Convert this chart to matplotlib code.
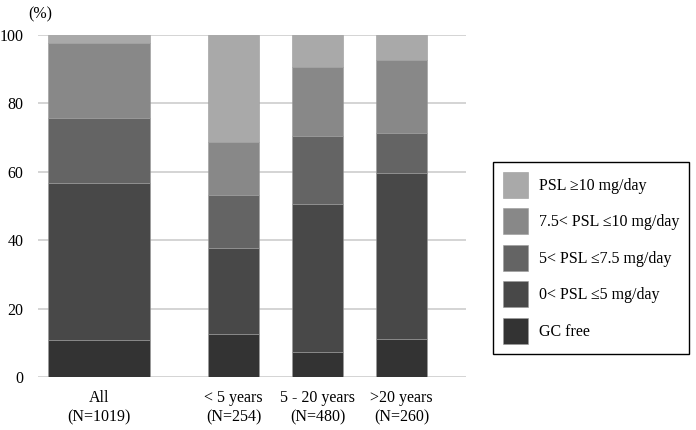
import matplotlib
import matplotlib.pyplot as plt
import numpy as np

plt.switch_backend('Agg')
plt.rcParams['font.family'] = ['Liberation Serif', 'DejaVu Serif']

# Datos (porcentaje)
grupos = ['All\n(N=1019)', '< 5 years\n(N=254)', '5 - 20 years\n(N=480)', '>20 years\n(N=260)']
gc_free = [10.9, 12.7, 7.2, 11.1]
psl_0_5 = [45.9, 25.0, 43.5, 48.5]
psl_5_75 = [19.0, 15.4, 19.9, 11.8]
psl_75_10 = [22.0, 15.6, 20.1, 21.2]
psl_10 = [2.2, 31.3, 9.3, 7.4]

etiquetas = ['GC free', '0< PSL \u22645 mg/day', '5< PSL \u22647.5 mg/day',
             '7.5< PSL \u226410 mg/day', 'PSL \u226510 mg/day']
colores = ['#333333', '#484848', '#646464', '#888888', '#a9a9a9']

posiciones = [0, 1.6, 2.6, 3.6]
anchos = [1.22, 0.6, 0.6, 0.6]

fs = 11.5

fig = plt.figure(figsize=(6.96, 4.30), dpi=100)
ax = fig.add_axes([38 / 696, 1 - 377 / 430, 428 / 696, 342 / 430])

series = [gc_free, psl_0_5, psl_5_75, psl_75_10, psl_10]
base = np.zeros(len(grupos))
barras = []
for valores, color, etiqueta in zip(series, colores, etiquetas):
    b = ax.bar(posiciones, valores, width=anchos, bottom=base, color=color,
               edgecolor='#9a9a9a', linewidth=0.4, label=etiqueta, zorder=3)
    barras.append(b)
    base += np.array(valores)

ax.set_ylim(0, 100)
ax.set_xlim(-0.73, 4.37)
ax.set_yticks([0, 20, 40, 60, 80, 100])
ax.set_xticks(posiciones)
ax.set_xticklabels(grupos, fontsize=fs, linespacing=1.3)
ax.tick_params(axis='y', length=0, pad=10.5, labelsize=fs)
ax.tick_params(axis='x', length=0, pad=9)
ax.grid(axis='y', color='#d4d4d4', linewidth=1.4, zorder=0)
for s in ax.spines.values():
    s.set_visible(False)

fig.text(40 / 696, 1 - 14 / 430, '(%)', fontsize=fs, ha='center', va='center')

handles = [b[0] for b in barras][::-1]
fig.legend(handles, etiquetas[::-1], loc='upper left',
           bbox_to_anchor=(493 / 696, 1 - 162 / 430), fontsize=fs,
           frameon=True, fancybox=False, edgecolor='black', framealpha=1,
           handlelength=1.62, handleheight=2.12, labelspacing=0.67,
           handletextpad=0.68, borderpad=0.6, borderaxespad=0)

plt.savefig('out.png', dpi=100)
plt.close()
